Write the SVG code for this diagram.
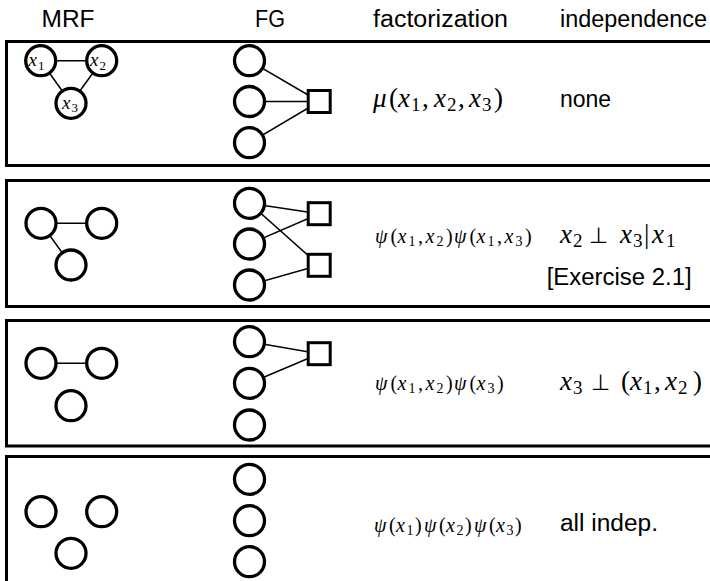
<svg xmlns="http://www.w3.org/2000/svg" width="710" height="581" viewBox="0 0 710 581">
<style>
.bg{fill:#fff}
.box{fill:none;stroke:#000;stroke-width:3}
.node{fill:#fff;stroke:#000;stroke-width:3.3}
.fac{fill:#fff;stroke:#000;stroke-width:3}
.edge{stroke:#000;stroke-width:1.5;fill:none}
.hdr{font-family:"Liberation Sans",Arial,sans-serif;font-size:23px;fill:#000}
.m{font-family:"Liberation Serif","Times New Roman",serif;font-style:italic;fill:#000}
.up{font-style:normal}
.perp{font-family:"DejaVu Sans",sans-serif;font-style:normal}
.big{font-size:27px}
.bigs{font-size:19px}
.sm{font-size:20px}
.sms{font-size:14px}
.lbl{font-size:19px}
.lbls{font-size:13px}
</style>
<rect class="bg" x="0" y="0" width="710" height="581"/>

<g id="headers">
<text class="hdr" x="68" y="27" text-anchor="middle" textLength="53" lengthAdjust="spacingAndGlyphs">MRF</text>
<text class="hdr" x="270" y="27" text-anchor="middle" textLength="30" lengthAdjust="spacingAndGlyphs">FG</text>
<text class="hdr" x="373" y="27" textLength="135" lengthAdjust="spacingAndGlyphs">factorization</text>
<text class="hdr" x="560" y="27" textLength="147" lengthAdjust="spacingAndGlyphs">independence</text>
</g>

<g id="rows">
<rect class="box" x="6.5" y="41.5" width="712" height="124"/>
<rect class="box" x="6.5" y="180.5" width="712" height="126"/>
<rect class="box" x="6.5" y="320.5" width="712" height="125.5"/>
<rect class="box" x="6.5" y="456.5" width="712" height="140"/>
</g>

<g id="connectors">
<line class="edge" x1="40.7" y1="60.7" x2="101.7" y2="60.7"/>
<line class="edge" x1="40.7" y1="60.7" x2="71" y2="103.3"/>
<line class="edge" x1="101.7" y1="60.7" x2="71" y2="103.3"/>
<line class="edge" x1="249.5" y1="60.7" x2="319.2" y2="101.5"/>
<line class="edge" x1="249.5" y1="101.5" x2="319.2" y2="101.5"/>
<line class="edge" x1="249.5" y1="142.7" x2="319.2" y2="101.5"/>
<line class="edge" x1="41" y1="223.3" x2="101.7" y2="223.3"/>
<line class="edge" x1="41" y1="223.3" x2="71" y2="265"/>
<line class="edge" x1="249.5" y1="203.3" x2="319.2" y2="213.7"/>
<line class="edge" x1="249.5" y1="203.3" x2="319.2" y2="265.3"/>
<line class="edge" x1="249.5" y1="244" x2="319.2" y2="213.7"/>
<line class="edge" x1="249.5" y1="285" x2="319.2" y2="265.3"/>
<line class="edge" x1="41" y1="363.3" x2="101.7" y2="363.3"/>
<line class="edge" x1="249.5" y1="341.7" x2="319.2" y2="353.7"/>
<line class="edge" x1="249.5" y1="383.3" x2="319.2" y2="353.7"/>
</g>

<g id="r1-mrf-x1"><circle class="node" cx="40.7" cy="60.7" r="15"/><text class="m lbl" x="28.5" y="66"><tspan>x</tspan><tspan class="up lbls" x="38" y="69.5">1</tspan></text></g>
<g id="r1-mrf-x2"><circle class="node" cx="101.7" cy="60.7" r="15"/><text class="m lbl" x="90" y="66"><tspan>x</tspan><tspan class="up lbls" x="99.5" y="69.5">2</tspan></text></g>
<g id="r1-mrf-x3"><circle class="node" cx="71" cy="103.3" r="15"/><text class="m lbl" x="62" y="108.5"><tspan>x</tspan><tspan class="up lbls" x="71.5" y="112">3</tspan></text></g>
<g id="r1-fg-v1"><circle class="node" cx="249.5" cy="60.7" r="15"/></g>
<g id="r1-fg-v2"><circle class="node" cx="249.5" cy="101.5" r="15"/></g>
<g id="r1-fg-v3"><circle class="node" cx="249.5" cy="142.7" r="15"/></g>
<g id="r1-fg-f1"><rect class="fac" x="308.2" y="90.5" width="22" height="22"/></g>

<g id="r2-mrf-x1"><circle class="node" cx="41" cy="223.3" r="15"/></g>
<g id="r2-mrf-x2"><circle class="node" cx="101.7" cy="223.3" r="15"/></g>
<g id="r2-mrf-x3"><circle class="node" cx="71" cy="265" r="15"/></g>
<g id="r2-fg-v1"><circle class="node" cx="249.5" cy="203.3" r="15"/></g>
<g id="r2-fg-v2"><circle class="node" cx="249.5" cy="244" r="15"/></g>
<g id="r2-fg-v3"><circle class="node" cx="249.5" cy="285" r="15"/></g>
<g id="r2-fg-f1"><rect class="fac" x="308.2" y="202.7" width="22" height="22"/></g>
<g id="r2-fg-f2"><rect class="fac" x="308.2" y="254.3" width="22" height="22"/></g>

<g id="r3-mrf-x1"><circle class="node" cx="41" cy="363.3" r="15"/></g>
<g id="r3-mrf-x2"><circle class="node" cx="101.7" cy="363.3" r="15"/></g>
<g id="r3-mrf-x3"><circle class="node" cx="71" cy="405.7" r="15"/></g>
<g id="r3-fg-v1"><circle class="node" cx="249.5" cy="341.7" r="15"/></g>
<g id="r3-fg-v2"><circle class="node" cx="249.5" cy="383.3" r="15"/></g>
<g id="r3-fg-v3"><circle class="node" cx="249.5" cy="425" r="15"/></g>
<g id="r3-fg-f1"><rect class="fac" x="308.2" y="342.7" width="22" height="22"/></g>

<g id="r4-mrf-x1"><circle class="node" cx="41" cy="511.7" r="15"/></g>
<g id="r4-mrf-x2"><circle class="node" cx="101.7" cy="511.7" r="15"/></g>
<g id="r4-mrf-x3"><circle class="node" cx="71" cy="553.3" r="15"/></g>
<g id="r4-fg-v1"><circle class="node" cx="249.5" cy="479.3" r="15"/></g>
<g id="r4-fg-v2"><circle class="node" cx="249.5" cy="520.7" r="15"/></g>
<g id="r4-fg-v3"><circle class="node" cx="249.5" cy="561.7" r="15"/></g>

<g id="r1-text">
<text class="m big" y="107"><tspan x="373">μ</tspan><tspan class="up" x="389">(</tspan><tspan x="398">x</tspan><tspan class="up bigs" x="411" y="111">1</tspan><tspan class="up" x="422" y="107">,</tspan><tspan x="434">x</tspan><tspan class="up bigs" x="447" y="111">2</tspan><tspan class="up" x="458" y="107">,</tspan><tspan x="469">x</tspan><tspan class="up bigs" x="482" y="111">3</tspan><tspan class="up" x="494" y="107">)</tspan></text>
<text class="hdr" x="560" y="107">none</text>
</g>

<g id="r2-text">
<text class="m sm" y="242.7"><tspan x="375">ψ</tspan><tspan class="up" x="390.5">(</tspan><tspan x="397.5">x</tspan><tspan class="up sms" x="408.5" y="246">1</tspan><tspan class="up" x="418" y="242.7">,</tspan><tspan x="425.5">x</tspan><tspan class="up sms" x="436.5" y="246">2</tspan><tspan class="up" x="446" y="242.7">)</tspan><tspan x="454">ψ</tspan><tspan class="up" x="469.5">(</tspan><tspan x="476.5">x</tspan><tspan class="up sms" x="487.5" y="246">1</tspan><tspan class="up" x="497" y="242.7">,</tspan><tspan x="504.5">x</tspan><tspan class="up sms" x="515.5" y="246">3</tspan><tspan class="up" x="525" y="242.7">)</tspan></text>
<text class="m big" y="242.5"><tspan x="560">x</tspan><tspan class="up bigs" x="573" y="246.5">2</tspan><tspan class="perp" x="589" y="242.5" font-size="22">⊥</tspan><tspan x="620">x</tspan><tspan class="up bigs" x="633" y="246.5">3</tspan><tspan class="up" x="644" y="242.5">|</tspan><tspan x="652">x</tspan><tspan class="up bigs" x="666" y="246.5">1</tspan></text>
<text class="hdr" x="546.7" y="285" textLength="145" lengthAdjust="spacingAndGlyphs">[Exercise 2.1]</text>
</g>

<g id="r3-text">
<text class="m sm" y="389.7"><tspan x="375">ψ</tspan><tspan class="up" x="390.5">(</tspan><tspan x="397.5">x</tspan><tspan class="up sms" x="408.5" y="393">1</tspan><tspan class="up" x="418" y="389.7">,</tspan><tspan x="425.5">x</tspan><tspan class="up sms" x="436.5" y="393">2</tspan><tspan class="up" x="446" y="389.7">)</tspan><tspan x="454">ψ</tspan><tspan class="up" x="469.5">(</tspan><tspan x="476.5">x</tspan><tspan class="up sms" x="487.5" y="393">3</tspan><tspan class="up" x="497" y="389.7">)</tspan></text>
<text class="m big" y="390"><tspan x="560">x</tspan><tspan class="up bigs" x="573" y="394">3</tspan><tspan class="perp" x="591" y="390" font-size="22">⊥</tspan><tspan class="up" x="621">(</tspan><tspan x="630">x</tspan><tspan class="up bigs" x="643" y="394">1</tspan><tspan class="up" x="654" y="390">,</tspan><tspan x="665">x</tspan><tspan class="up bigs" x="678" y="394">2</tspan><tspan class="up" x="693" y="390">)</tspan></text>
</g>

<g id="r4-text">
<text class="m sm" y="531.7"><tspan x="374">ψ</tspan><tspan class="up" x="389">(</tspan><tspan x="396">x</tspan><tspan class="up sms" x="406.5" y="535">1</tspan><tspan class="up" x="415" y="531.7">)</tspan><tspan x="424">ψ</tspan><tspan class="up" x="439">(</tspan><tspan x="446">x</tspan><tspan class="up sms" x="456.5" y="535">2</tspan><tspan class="up" x="465" y="531.7">)</tspan><tspan x="474">ψ</tspan><tspan class="up" x="489">(</tspan><tspan x="496">x</tspan><tspan class="up sms" x="506.5" y="535">3</tspan><tspan class="up" x="515" y="531.7">)</tspan></text>
<text class="hdr" x="560" y="530.5" textLength="98" lengthAdjust="spacingAndGlyphs">all indep.</text>
</g>
</svg>
